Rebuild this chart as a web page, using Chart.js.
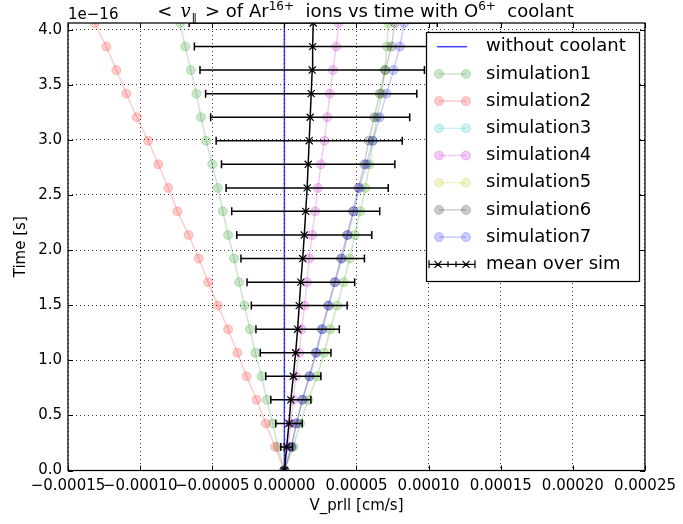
<!DOCTYPE html>
<html><head><meta charset="utf-8">
<script src="https://cdn.jsdelivr.net/npm/chart.js@4.4.1/dist/chart.umd.min.js"></script>
<style>html,body{margin:0;padding:0;background:#fff;} #wrap{width:683px;height:524px;position:relative;}</style>
</head><body><div id="wrap"><canvas id="c"></canvas></div>
<script>
// time values (in units of 1e-16 s, as shown with the axis offset)
const times = [0, 0.214, 0.427, 0.641, 0.855, 1.068, 1.282, 1.496, 1.709, 1.923, 2.137, 2.351, 2.564, 2.778, 2.992, 3.205, 3.419, 3.633, 3.846, 4.06];
// velocities below are in units of 1e-5 cm/s
const V_UNIT = 1e-5;
const noCoolant = [0,0,0,0,0,0,0,0,0,0,0,0,0,0,0,0,0,0,0,0];
const sim1 = [0, -0.46, -0.80, -1.22, -1.58, -2.02, -2.39, -2.77, -3.14, -3.49, -3.90, -4.27, -4.61, -5.00, -5.42, -5.78, -6.10, -6.49, -6.88, -7.23];
const sim2 = [0, -0.64, -1.29, -1.93, -2.62, -3.26, -3.90, -4.61, -5.28, -5.94, -6.64, -7.41, -8.05, -8.74, -9.45, -10.23, -10.96, -11.65, -12.34, -13.15];
const sim3 = [0, 0.62, 1.08, 1.65, 2.27, 2.75, 3.18, 3.65, 4.11, 4.52, 4.87, 5.26, 5.60, 5.90, 6.13, 6.42, 6.74, 6.97, 7.11, 7.20];
const sim4 = [0, 0.25, 0.45, 0.62, 0.80, 1.02, 1.20, 1.40, 1.57, 1.72, 1.93, 2.14, 2.33, 2.53, 2.78, 2.97, 3.16, 3.37, 3.59, 3.76];
const sim5 = [0, 0.63, 1.09, 1.66, 2.28, 2.76, 3.19, 3.66, 4.12, 4.53, 4.88, 5.27, 5.61, 5.91, 6.14, 6.43, 6.75, 6.98, 7.12, 7.21];
const sim6 = [0, 0.48, 0.83, 1.24, 1.72, 2.17, 2.58, 3.03, 3.48, 3.92, 4.34, 4.75, 5.13, 5.54, 5.85, 6.23, 6.61, 6.99, 7.43, 7.66];
const sim7 = [0, 0.50, 0.85, 1.26, 1.77, 2.22, 2.64, 3.08, 3.53, 3.99, 4.40, 4.82, 5.21, 5.68, 6.13, 6.61, 7.09, 7.57, 8.01, 8.31];
const meanSim = [0, 0.16, 0.32, 0.45, 0.62, 0.78, 0.92, 1.03, 1.14, 1.27, 1.38, 1.48, 1.58, 1.65, 1.72, 1.79, 1.86, 1.93, 1.96, 2.00];
const stdSim = [0, 0.41, 0.92, 1.39, 1.91, 2.45, 2.89, 3.32, 3.73, 4.28, 4.68, 5.13, 5.62, 6.01, 6.45, 6.90, 7.32, 7.78, 8.20, 8.60];

const xTicks = [-0.00015, -0.0001, -0.00005, 0, 0.00005, 0.0001, 0.00015, 0.0002, 0.00025];
const xTickLabels = ['\u22120.00015','\u22120.00010','\u22120.00005','0.00000','0.00005','0.00010','0.00015','0.00020','0.00025'];
const yTicks = [0, 0.5, 1.0, 1.5, 2.0, 2.5, 3.0, 3.5, 4.0];
const yTickLabels = ['0.0','0.5','1.0','1.5','2.0','2.5','3.0','3.5','4.0'];
const simLabels = ['simulation1','simulation2','simulation3','simulation4','simulation5','simulation6','simulation7'];
const simSeries = [sim1, sim2, sim3, sim4, sim5, sim6, sim7];
const simColors = ['rgba(0,128,0,0.2)','rgba(255,0,0,0.2)','rgba(0,191,191,0.2)','rgba(191,0,191,0.2)','rgba(191,191,0,0.2)','rgba(0,0,0,0.2)','rgba(0,0,255,0.2)'];
const blueColor = 'rgba(0,0,255,0.75)';
const FONT = 'DejaVu Sans';

const toPts = arr => times.map((t,i)=>({x: arr[i]*V_UNIT, y: t}));
const errData = [];
times.forEach((t,i)=>{
  errData.push({x:(meanSim[i]-stdSim[i])*V_UNIT, y:t});
  errData.push({x:(meanSim[i]+stdSim[i])*V_UNIT, y:t});
  errData.push({x:null, y:null});
});

const datasets = [];
datasets.push({label:'without coolant', data: toPts(noCoolant), showLine:true, borderColor: blueColor, borderWidth:1.5, pointRadius:0, clip:0});
simSeries.forEach((s,k)=>{
  datasets.push({label: simLabels[k], data: toPts(s), showLine:true, borderColor: simColors[k], backgroundColor: simColors[k],
    pointBackgroundColor: simColors[k], pointBorderColor: simColors[k], borderWidth:1.5, pointRadius:4.5, pointBorderWidth:1, pointStyle:'circle', clip:0});
});
datasets.push({label:'mean over sim err', data: errData, showLine:true, spanGaps:false, borderColor:'#000', borderWidth:1.5,
  pointStyle:'line', pointRotation:90, pointRadius:4, pointBorderWidth:1.5, pointBorderColor:'#000', clip:0});
datasets.push({label:'mean over sim', data: toPts(meanSim), showLine:true, borderColor:'#000', borderWidth:1.5,
  pointStyle:'crossRot', pointRadius:5, pointBorderWidth:1.2, pointBorderColor:'#000', clip:0});
datasets.forEach((d,i)=>{ d.order = datasets.length - i; });

function drawRich(ctx, segs, cx, baseline){
  let total = 0;
  segs.forEach(s=>{ ctx.font = s.font; s.w = ctx.measureText(s.t).width; total += s.w + (s.gap||0); });
  let x = cx - total/2;
  segs.forEach(s=>{ ctx.font = s.font; ctx.fillText(s.t, x, baseline + (s.dy||0)); x += s.w + (s.gap||0); });
}

const deco = {
  id:'deco',
  afterDraw(chart){
    const ctx = chart.ctx, a = chart.chartArea, xs = chart.scales.x, ys = chart.scales.y;
    ctx.save();
    // inner ticks
    ctx.strokeStyle = '#000'; ctx.lineWidth = 1;
    ctx.beginPath();
    xTicks.forEach(v=>{ const p = Math.round(xs.getPixelForValue(v))+0.5;
      ctx.moveTo(p, a.bottom); ctx.lineTo(p, a.bottom-5); ctx.moveTo(p, a.top); ctx.lineTo(p, a.top+5); });
    yTicks.forEach(v=>{ const p = Math.round(ys.getPixelForValue(v))+0.5;
      ctx.moveTo(a.left, p); ctx.lineTo(a.left+5, p); ctx.moveTo(a.right, p); ctx.lineTo(a.right-5, p); });
    ctx.stroke();
    // frame
    ctx.lineWidth = 1.25;
    ctx.strokeRect(a.left, a.top, a.right-a.left, a.bottom-a.top);
    // texts
    ctx.fillStyle = '#000'; ctx.textBaseline = 'alphabetic'; ctx.textAlign = 'left';
    ctx.font = '15px ' + FONT;
    ctx.fillText('1e\u221216', a.left, 19);
    drawRich(ctx, [
      {t:'<', font:'18px '+FONT, gap:8},
      {t:'v', font:'italic 18px DejaVu Serif', gap:1},
      {t:'\u2016', font:'11px '+FONT, dy:4, gap:8},
      {t:'>', font:'18px '+FONT},
      {t:' of Ar', font:'18px '+FONT},
      {t:'16+', font:'12px '+FONT, dy:-7},
      {t:'  ions vs time with O', font:'18px '+FONT},
      {t:'6+', font:'12px '+FONT, dy:-7},
      {t:'  coolant', font:'18px '+FONT}
    ], 365.5, 17);
    ctx.font = '15px ' + FONT; ctx.textAlign = 'center'; ctx.textBaseline = 'middle';
    ctx.fillText('V_prll [cm/s]', (a.left+a.right)/2, 506);
    ctx.save(); ctx.translate(21, (a.top+a.bottom)/2); ctx.rotate(-Math.PI/2);
    ctx.fillText('Time [s]', 0, 0); ctx.restore();
    // legend
    const lx = 426.5, ly = 32.5, lw = 213, lh = 249;
    ctx.fillStyle = '#fff'; ctx.fillRect(lx, ly, lw, lh);
    ctx.strokeStyle = '#000'; ctx.lineWidth = 1.25; ctx.strokeRect(lx, ly, lw, lh);
    const rowY = k => 46.7 + k*27.2;
    ctx.font = '18px ' + FONT; ctx.textAlign = 'left'; ctx.textBaseline = 'middle';
    // without coolant
    ctx.strokeStyle = blueColor; ctx.lineWidth = 1.5;
    ctx.beginPath(); ctx.moveTo(437, rowY(0)); ctx.lineTo(467, rowY(0)); ctx.stroke();
    ctx.fillStyle = '#000'; ctx.fillText('without coolant', 486, rowY(0));
    simLabels.forEach((lab,k)=>{
      const y = rowY(k+1), c = simColors[k];
      ctx.strokeStyle = c; ctx.lineWidth = 1.5;
      ctx.beginPath(); ctx.moveTo(439, y); ctx.lineTo(466, y); ctx.stroke();
      [439, 466].forEach(px=>{ ctx.beginPath(); ctx.arc(px, y, 4.5, 0, Math.PI*2); ctx.fillStyle = c; ctx.fill(); ctx.lineWidth = 1; ctx.strokeStyle = c; ctx.stroke(); });
      ctx.fillStyle = '#000'; ctx.fillText(lab, 486, y);
    });
    // mean over sim
    const my = rowY(8);
    ctx.strokeStyle = '#000'; ctx.lineWidth = 1.2;
    ctx.beginPath(); ctx.moveTo(429, my); ctx.lineTo(475, my);
    [429, 475].forEach(px=>{ ctx.moveTo(px, my-4); ctx.lineTo(px, my+4); });
    [448, 456].forEach(px=>{ ctx.moveTo(px, my-3); ctx.lineTo(px, my+3); });
    [438, 466].forEach(px=>{ ctx.moveTo(px-3.5, my-3.5); ctx.lineTo(px+3.5, my+3.5); ctx.moveTo(px-3.5, my+3.5); ctx.lineTo(px+3.5, my-3.5); });
    ctx.stroke();
    ctx.fillStyle = '#000'; ctx.fillText('mean over sim', 486, my);
    ctx.restore();
  }
};

const tickFont = {family: FONT, size: 15};
new Chart(document.getElementById('c'), {
  type: 'scatter',
  data: { datasets },
  options: {
    responsive: true, maintainAspectRatio: false, animation: false, events: [],
    layout: { padding: { left: 0, right: 34, top: 23, bottom: 0 } },
    plugins: { legend: { display: false }, tooltip: { enabled: false }, title: { display: false } },
    scales: {
      x: {
        type: 'linear', min: -0.00015, max: 0.00025,
        afterBuildTicks: s => { s.ticks = xTicks.map(v => ({ value: v })); },
        afterFit: s => { s.height = 53.5; },
        grid: { color: 'rgba(0,0,0,0.8)', lineWidth: 1, drawTicks: false },
        border: { display: false, dash: [1, 3] },
        ticks: { autoSkip: false, maxRotation: 0, minRotation: 0, padding: 7, color: '#000', font: tickFont,
                 callback: (v, i) => xTickLabels[i] }
      },
      y: {
        type: 'linear', min: 0, max: 4.06,
        afterBuildTicks: s => { s.ticks = yTicks.map(v => ({ value: v })); },
        afterFit: s => { s.width = 68; },
        grid: { color: 'rgba(0,0,0,0.8)', lineWidth: 1, drawTicks: false },
        border: { display: false, dash: [1, 3] },
        ticks: { autoSkip: false, padding: 6, color: '#000', font: tickFont,
                 callback: (v, i) => yTickLabels[i] }
      }
    }
  },
  plugins: [deco]
});
</script>
</body></html>
